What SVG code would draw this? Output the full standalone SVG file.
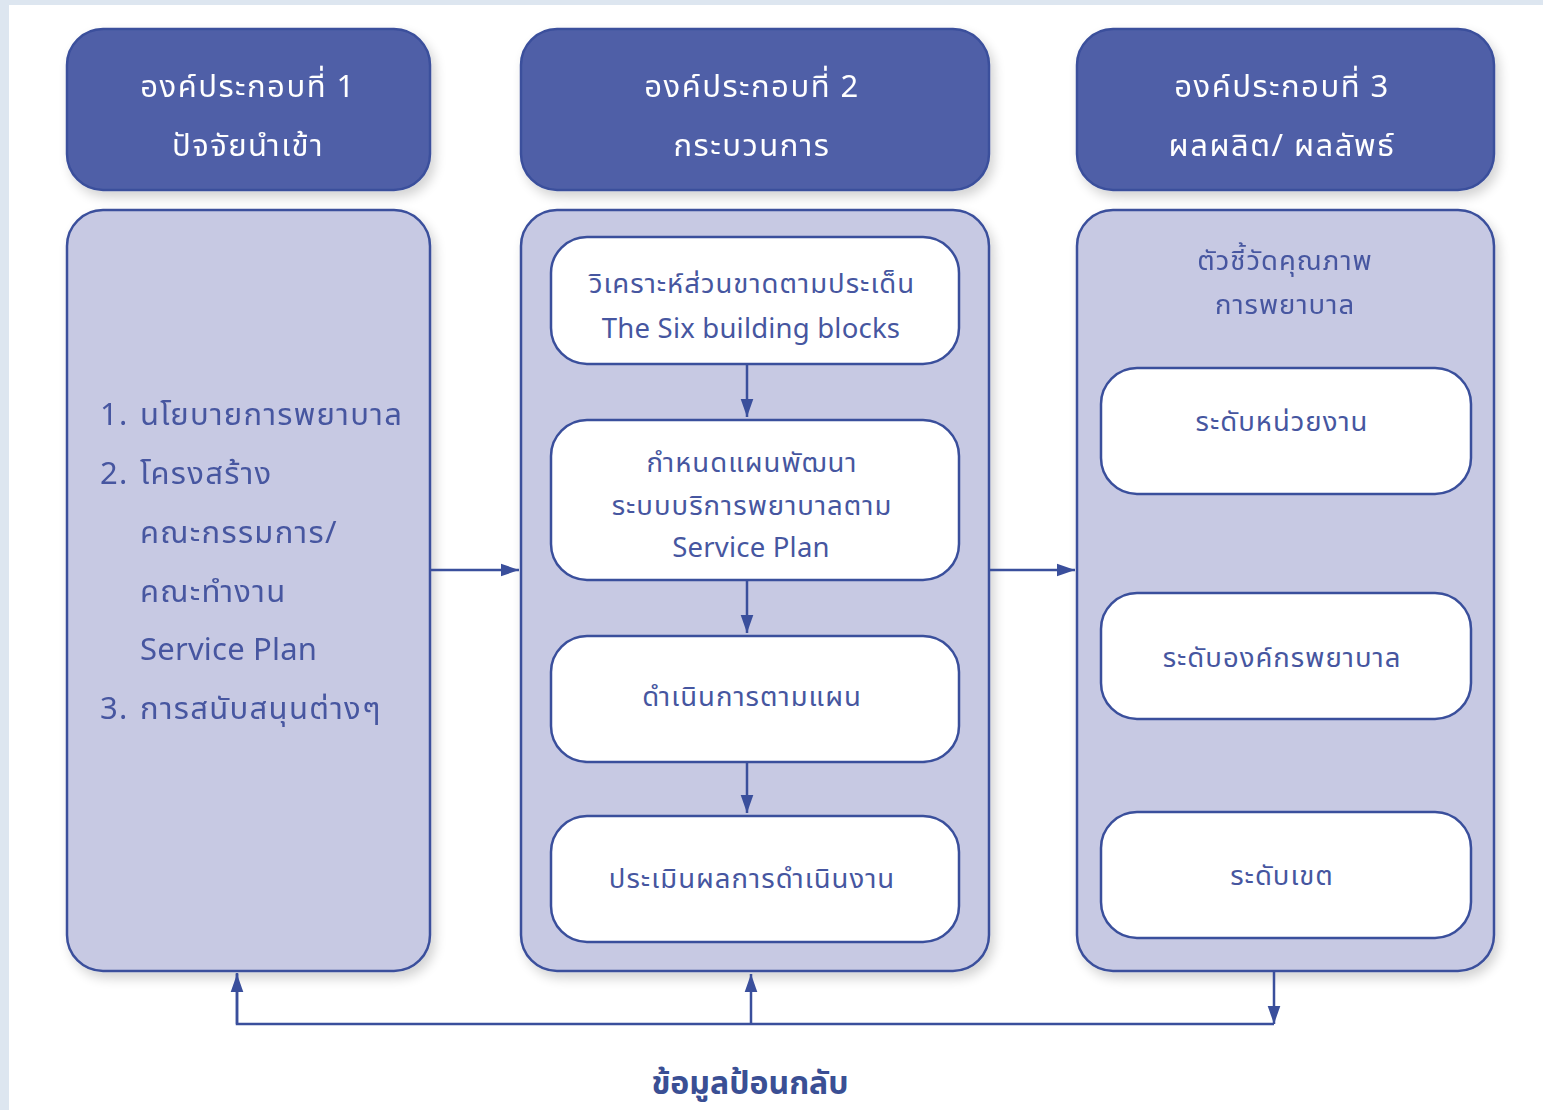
<svg xmlns="http://www.w3.org/2000/svg" width="1543" height="1110" viewBox="0 0 1543 1110">
<defs>
<filter id="sh" x="-10%" y="-10%" width="125%" height="125%">
<feGaussianBlur in="SourceAlpha" stdDeviation="6"/>
<feOffset dx="4" dy="6" result="b"/>
<feComponentTransfer><feFuncA type="linear" slope="0.18"/></feComponentTransfer>
<feMerge><feMergeNode/><feMergeNode in="SourceGraphic"/></feMerge>
</filter>
<marker id="ah2" viewBox="0 0 10 10" refX="10" refY="5" markerWidth="18" markerHeight="18" markerUnits="userSpaceOnUse" orient="auto">
<path d="M0,1.5 L10,5 L0,8.5 z" fill="#3a4f9c"/>
</marker>
</defs>
<style>
.hdr{fill:#505fa7;stroke:#3a4f9c;stroke-width:2.5}
.body{fill:#c7c9e3;stroke:#3a4f9c;stroke-width:2.5}
.inner{fill:#ffffff;stroke:#3a4f9c;stroke-width:2.5}
.ht{font-family:"Noto Sans","Noto Sans Thai","DejaVu Sans",sans-serif;font-size:31px;letter-spacing:1.5px;fill:#ffffff;text-anchor:middle}
.t{font-family:"Noto Sans","Noto Sans Thai","DejaVu Sans",sans-serif;font-size:27.5px;letter-spacing:1px;fill:#4656a0;text-anchor:middle}
.lt{font-family:"Noto Sans","Noto Sans Thai","DejaVu Sans",sans-serif;font-size:31px;letter-spacing:1.3px;fill:#4656a0}
.en{letter-spacing:0.2px}
.fb{font-family:"Noto Sans","Noto Sans Thai","DejaVu Sans",sans-serif;font-size:32px;font-weight:bold;fill:#3a4f94;text-anchor:middle}
.c{fill:none;stroke:#3a4f9c;stroke-width:2.5}
</style>
<rect x="0" y="0" width="1543" height="1110" fill="#dde6f0"/>
<rect x="9" y="5" width="1534" height="1105" fill="#ffffff"/>

<g id="header1" filter="url(#sh)">
<rect class="hdr" x="67" y="29" width="363" height="161" rx="36"/>
<text class="ht" x="248" y="97">องค์ประกอบที่ 1</text>
<text class="ht" x="248" y="156">ปัจจัยนำเข้า</text>
</g>
<g id="header2" filter="url(#sh)">
<rect class="hdr" x="521" y="29" width="468" height="161" rx="36"/>
<text class="ht" x="752" y="97">องค์ประกอบที่ 2</text>
<text class="ht" x="752" y="156">กระบวนการ</text>
</g>
<g id="header3" filter="url(#sh)">
<rect class="hdr" x="1077" y="29" width="417" height="161" rx="36"/>
<text class="ht" x="1282" y="97">องค์ประกอบที่ 3</text>
<text class="ht" x="1282" y="156">ผลผลิต/ ผลลัพธ์</text>
</g>

<g id="input" filter="url(#sh)">
<rect class="body" x="67" y="210" width="363" height="761" rx="36"/>
<text class="lt" x="100" y="425">1.</text><text class="lt" x="140" y="425">นโยบายการพยาบาล</text>
<text class="lt" x="100" y="484">2.</text><text class="lt" x="140" y="484">โครงสร้าง</text>
<text class="lt" x="140" y="543">คณะกรรมการ/</text>
<text class="lt" x="140" y="602">คณะทำงาน</text>
<text class="lt en" x="140" y="660">Service Plan</text>
<text class="lt" x="100" y="719">3.</text><text class="lt" x="140" y="719">การสนับสนุนต่างๆ</text>
</g>

<g id="process" filter="url(#sh)">
<rect class="body" x="521" y="210" width="468" height="761" rx="36"/>
</g>
<g id="output" filter="url(#sh)">
<rect class="body" x="1077" y="210" width="417" height="761" rx="36"/>
<text class="t" x="1285" y="270">ตัวชี้วัดคุณภาพ</text>
<text class="t" x="1285" y="314">การพยาบาล</text>
</g>

<g id="p1">
<rect class="inner" x="551" y="237" width="408" height="127" rx="36"/>
<text class="t" x="752" y="293">วิเคราะห์ส่วนขาดตามประเด็น</text>
<text class="t en" x="751" y="338">The Six building blocks</text>
</g>
<g id="p2">
<rect class="inner" x="551" y="420" width="408" height="160" rx="36"/>
<text class="t" x="752" y="472">กำหนดแผนพัฒนา</text>
<text class="t" x="752" y="515">ระบบบริการพยาบาลตาม</text>
<text class="t en" x="751" y="557">Service Plan</text>
</g>
<g id="p3">
<rect class="inner" x="551" y="636" width="408" height="126" rx="36"/>
<text class="t" x="752" y="706">ดำเนินการตามแผน</text>
</g>
<g id="p4">
<rect class="inner" x="551" y="816" width="408" height="126" rx="36"/>
<text class="t" x="752" y="888">ประเมินผลการดำเนินงาน</text>
</g>

<g id="o1">
<rect class="inner" x="1101" y="368" width="370" height="126" rx="36"/>
<text class="t" x="1282" y="431">ระดับหน่วยงาน</text>
</g>
<g id="o2">
<rect class="inner" x="1101" y="593" width="370" height="126" rx="36"/>
<text class="t" x="1282" y="667">ระดับองค์กรพยาบาล</text>
</g>
<g id="o3">
<rect class="inner" x="1101" y="812" width="370" height="126" rx="36"/>
<text class="t" x="1282" y="885">ระดับเขต</text>
</g>

<g id="connectors">
<line class="c" x1="747" y1="364" x2="747" y2="417" marker-end="url(#ah2)"/>
<line class="c" x1="747" y1="580" x2="747" y2="633" marker-end="url(#ah2)"/>
<line class="c" x1="747" y1="762" x2="747" y2="813" marker-end="url(#ah2)"/>
<line class="c" x1="430" y1="570" x2="519" y2="570" marker-end="url(#ah2)"/>
<line class="c" x1="989" y1="570" x2="1075" y2="570" marker-end="url(#ah2)"/>
<polyline class="c" points="237,973 237,1024 1274,1024"/>
<line class="c" x1="237" y1="1024" x2="237" y2="974" marker-end="url(#ah2)"/>
<line class="c" x1="751" y1="1024" x2="751" y2="974" marker-end="url(#ah2)"/>
<line class="c" x1="1274" y1="972" x2="1274" y2="1024" marker-end="url(#ah2)"/>
</g>

<text class="fb" x="750" y="1094">ข้อมูลป้อนกลับ</text>
</svg>
